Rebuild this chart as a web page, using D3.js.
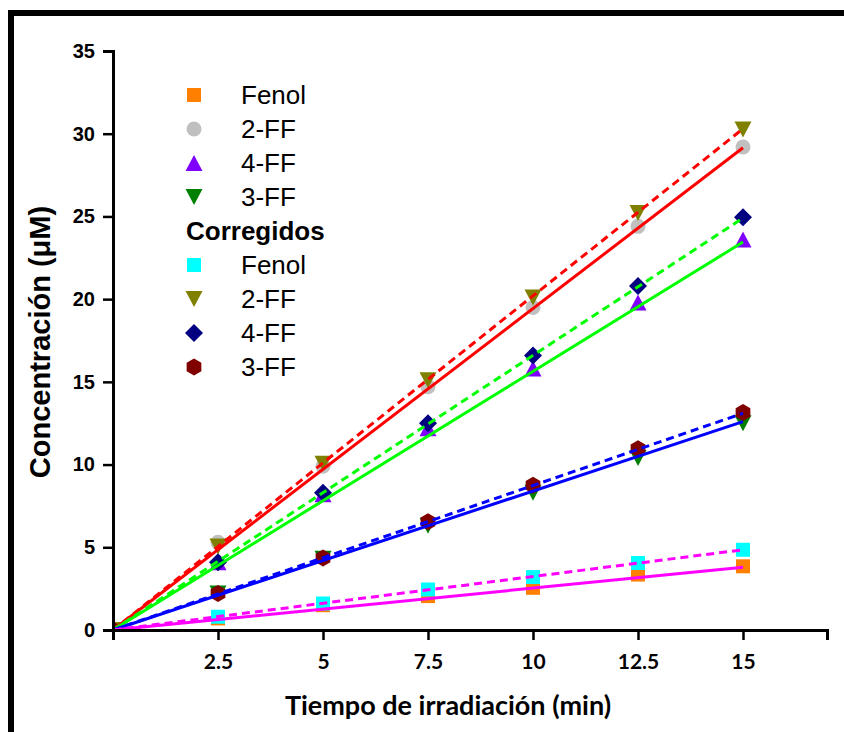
<!DOCTYPE html>
<html>
<head>
<meta charset="utf-8">
<script src="https://cdn.jsdelivr.net/npm/d3@7"></script>
<style>
  body { margin: 0; background: #fff; }
  svg { display: block; }
</style>
</head>
<body>
<div id="chart"></div>
<script>
// tiempos de muestreo (min)
const tiempos = [0, 2.5, 5, 7.5, 10, 12.5, 15];

// concentraciones medidas (uM)
const fenol = [0, 0.7, 1.5, 2.05, 2.55, 3.35, 3.85];
const ff2 = [0, 5.3, 9.9, 14.7, 19.5, 24.4, 29.2];
const ff4 = [0, 4.1, 8.2, 12.2, 15.8, 19.8, 23.6];
const ff3 = [0, 2.2, 4.3, 6.3, 8.3, 10.4, 12.5];

// corregidos
const fenolC = [0, 0.8, 1.6, 2.45, 3.2, 4.05, 4.85];
const ff2C = [0, 5.05, 10.05, 15.1, 20.1, 25.2, 30.25];
const ff4C = [0, 4.1, 8.3, 12.5, 16.6, 20.8, 24.95];
const ff3C = [0, 2.2, 4.35, 6.55, 8.75, 10.95, 13.15];

// ajustes lineales: valor al final (15 min), la recta sale del origen
const ajusteX = [0, 15];
const ajusteFin = [29.15, 23.45, 12.6, 3.8];
const ajusteFinC = [30.3, 24.9, 13.1, 4.85];
const ajusteColor = ["#ff0000", "#00ff00", "#0000ff", "#ff00ff"];

const xTicks = [2.5, 5, 7.5, 10, 12.5, 15];
const yTicks = [0, 5, 10, 15, 20, 25, 30, 35];

const series = [
    { name: "Fenol", values: fenol, color: "#ff8000", shape: "square" },
    { name: "2-FF", values: ff2, color: "#c0c0c0", shape: "circle" },
    { name: "4-FF", values: ff4, color: "#8000ff", shape: "up" },
    { name: "3-FF", values: ff3, color: "#008000", shape: "down" },
    { name: "Fenol", values: fenolC, color: "#00ffff", shape: "square" },
    { name: "2-FF", values: ff2C, color: "#808000", shape: "down" },
    { name: "4-FF", values: ff4C, color: "#000080", shape: "diamond" },
    { name: "3-FF", values: ff3C, color: "#800000", shape: "hexagon" }
];

const width = 844, height = 732;
const svg = d3.select("#chart").append("svg")
    .attr("width", width)
    .attr("height", height);

// marco negro (solo arriba e izquierda)
svg.append("rect").attr("x", 8).attr("y", 10).attr("width", width - 8).attr("height", 6).attr("fill", "#000");
svg.append("rect").attr("x", 8).attr("y", 10).attr("width", 6).attr("height", height - 10).attr("fill", "#000");

const x = d3.scaleLinear().domain([0, 17]).range([113, 827]);
const y = d3.scaleLinear().domain([0, 35]).range([630, 51]);

// clip para los marcadores en el origen
svg.append("clipPath").attr("id", "area")
    .append("rect")
    .attr("x", x(0)).attr("y", y(35) - 20)
    .attr("width", x(17) - x(0) + 10).attr("height", y(0) - y(35) + 20);

function markerPath(shape) {
    const s = 7;
    switch (shape) {
        case "square": return `M${-s},${-s}h${2 * s}v${2 * s}h${-2 * s}Z`;
        case "circle": return d3.symbol(d3.symbolCircle, Math.PI * 7.5 * 7.5)();
        case "up": return `M0,${-s - 1}L${s + 1.5},${s + 1}L${-s - 1.5},${s + 1}Z`;
        case "down": return `M0,${s + 1}L${s + 1.5},${-s - 1}L${-s - 1.5},${-s - 1}Z`;
        case "diamond": return `M0,${-s - 2}L${s + 2},0L0,${s + 2}L${-s - 2},0Z`;
        case "hexagon": {
            const r = 8.5;
            const pts = d3.range(6).map(i => {
                const a = Math.PI / 3 * i - Math.PI / 2;
                return [r * Math.cos(a), r * Math.sin(a)];
            });
            return "M" + pts.join("L") + "Z";
        }
    }
}

// marcadores
const markers = svg.append("g").attr("clip-path", "url(#area)");
series.forEach(s => {
    markers.selectAll(null)
        .data(tiempos.map((t, i) => [t, s.values[i]]))
        .enter().append("path")
        .attr("d", markerPath(s.shape))
        .attr("transform", d => `translate(${x(d[0])},${y(d[1])})`)
        .attr("fill", s.color);
});

// rectas de ajuste
const line = d3.line().x(d => x(d[0])).y(d => y(d[1]));
ajusteColor.forEach((c, i) => {
    svg.append("path")
        .attr("d", line(ajusteX.map((t, j) => [t, j === 0 ? 0 : ajusteFin[i]])))
        .attr("stroke", c).attr("stroke-width", 3).attr("fill", "none");
    svg.append("path")
        .attr("d", line(ajusteX.map((t, j) => [t, j === 0 ? 0 : ajusteFinC[i]])))
        .attr("stroke", c).attr("stroke-width", 3).attr("fill", "none")
        .attr("stroke-dasharray", "8,5");
});

// ejes
const xAxis = svg.append("g").attr("transform", `translate(0,${y(0)})`);
xAxis.call(d3.axisBottom(x).tickValues(d3.range(0, 17, 1.25)).tickSize(5).tickFormat(""));
xAxis.call(d3.axisBottom(x).tickValues([0].concat(xTicks)).tickSize(10).tickFormat(d => d === 0 ? "" : d)
    .tickPadding(14));
xAxis.selectAll("path.domain").attr("stroke-width", 3);
xAxis.selectAll(".tick line").attr("stroke-width", 2.5);
xAxis.selectAll("text")
    .attr("font-family", "Lato, 'Open Sans', sans-serif")
    .attr("font-weight", "bold")
    .attr("font-size", 21)
    .attr("fill", "#000");

const yAxis = svg.append("g").attr("transform", `translate(${x(0)},0)`);
yAxis.call(d3.axisLeft(y).tickValues(d3.range(2.5, 35, 5)).tickSize(5).tickFormat(""));
yAxis.call(d3.axisLeft(y).tickValues(yTicks).tickSize(10).tickPadding(8));
yAxis.selectAll("path.domain").attr("stroke-width", 3);
yAxis.selectAll(".tick line").attr("stroke-width", 2.5);
yAxis.selectAll("text")
    .attr("font-family", "'Liberation Sans', Arial, sans-serif")
    .attr("font-weight", "bold")
    .attr("font-size", 20)
    .attr("fill", "#000");

// títulos de ejes
svg.append("text")
    .attr("x", 448).attr("y", 715)
    .attr("text-anchor", "middle")
    .attr("font-family", "Lato, 'Open Sans', sans-serif")
    .attr("font-weight", "bold")
    .attr("font-size", 27)
    .text("Tiempo de irradiación (min)");

svg.append("text")
    .attr("transform", "translate(50,342) rotate(-90)")
    .attr("text-anchor", "middle")
    .attr("font-family", "'Liberation Sans', Arial, sans-serif")
    .attr("font-weight", "bold")
    .attr("font-size", 29)
    .text("Concentración (μM)");

// leyenda
const legend = svg.append("g");
const rowY = d3.scaleLinear().domain([0, 1]).range([95, 129]);
const filas = series.slice(0, 4).map((s, i) => ({ s: s, row: i }))
    .concat(series.slice(4).map((s, i) => ({ s: s, row: i + 5 })));
filas.forEach(f => {
    legend.append("path")
        .attr("d", markerPath(f.s.shape))
        .attr("transform", `translate(194,${rowY(f.row)})`)
        .attr("fill", f.s.color);
    legend.append("text")
        .attr("x", 241).attr("y", rowY(f.row) + 9)
        .attr("font-family", "'Liberation Sans', Arial, sans-serif")
        .attr("font-size", 26)
        .text(f.s.name);
});
legend.append("text")
    .attr("x", 186).attr("y", rowY(4) + 9)
    .attr("font-family", "'Liberation Sans', Arial, sans-serif")
    .attr("font-weight", "bold")
    .attr("font-size", 26)
    .text("Corregidos");
</script>
</body>
</html>
